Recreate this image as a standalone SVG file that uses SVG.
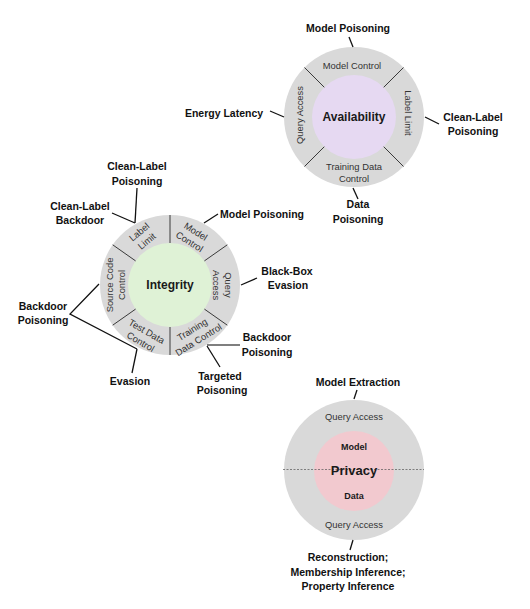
<svg xmlns="http://www.w3.org/2000/svg" width="530" height="609" viewBox="0 0 530 609">
<defs>
<style>
.outer{fill:#d9d9d9}
.div{stroke:#3a3a3a;stroke-width:1;fill:none}
.lbl{font-family:"Liberation Sans",Arial,sans-serif;font-weight:bold;font-size:10.5px;fill:#111;text-anchor:middle;dominant-baseline:central}
.seg{font-family:"Liberation Sans",Arial,sans-serif;font-size:9.4px;fill:#333;text-anchor:middle;dominant-baseline:central}
.title{font-family:"Liberation Sans",Arial,sans-serif;font-weight:bold;font-size:12px;fill:#1a1a1a;text-anchor:middle;dominant-baseline:central}
.conn{stroke:#111;stroke-width:1.3;fill:none}
</style>
</defs>
<rect width="530" height="609" fill="#ffffff"/>

<g id="availability">
<circle class="outer" cx="354" cy="117" r="70"/>
<circle cx="354" cy="117" r="42" fill="#e6d9f2"/>
<line class="div" x1="383.7" y1="87.3" x2="403.5" y2="67.5"/>
<line class="div" x1="383.7" y1="146.7" x2="403.5" y2="166.5"/>
<line class="div" x1="324.3" y1="146.7" x2="304.5" y2="166.5"/>
<line class="div" x1="324.3" y1="87.3" x2="304.5" y2="67.5"/>
<text class="seg" x="352" y="65">Model Control</text>
<text class="seg" transform="translate(299,115) rotate(-90)">Query Access</text>
<text class="seg" transform="translate(408,113) rotate(90)">Label Limit</text>
<text class="seg" x="354" y="166">Training Data</text>
<text class="seg" x="354" y="178">Control</text>
<text class="title" x="354" y="117">Availability</text>
</g>

<g id="integrity">
<circle class="outer" cx="170" cy="285" r="70"/>
<circle cx="170" cy="285" r="42" fill="#dff2d6"/>
<line class="div" x1="170" y1="243" x2="170" y2="215"/>
<line class="div" x1="204.4" y1="260.9" x2="227.3" y2="244.8"/>
<line class="div" x1="204.4" y1="309.1" x2="227.3" y2="325.2"/>
<line class="div" x1="170" y1="327" x2="170" y2="355"/>
<line class="div" x1="135.6" y1="309.1" x2="112.7" y2="325.2"/>
<line class="div" x1="135.6" y1="260.9" x2="112.7" y2="244.8"/>
<text class="seg" transform="translate(142.5,236) rotate(-40)"><tspan x="0" y="-6">Label</tspan><tspan x="0" y="6">Limit</tspan></text>
<text class="seg" transform="translate(193,236) rotate(32)"><tspan x="0" y="-6">Model</tspan><tspan x="0" y="6">Control</tspan></text>
<text class="seg" transform="translate(222.5,285) rotate(90)"><tspan x="0" y="-6">Query</tspan><tspan x="0" y="6">Access</tspan></text>
<text class="seg" transform="translate(195,334) rotate(-32)"><tspan x="0" y="-6">Training</tspan><tspan x="0" y="6">Data Control</tspan></text>
<text class="seg" transform="translate(144,336) rotate(30)"><tspan x="0" y="-6">Test Data</tspan><tspan x="0" y="6">Control</tspan></text>
<text class="seg" transform="translate(115,285) rotate(-90)"><tspan x="0" y="-6">Source Code</tspan><tspan x="0" y="6">Control</tspan></text>
<text class="title" x="170" y="285">Integrity</text>
</g>

<g id="privacy">
<circle class="outer" cx="354" cy="470" r="70"/>
<circle cx="354" cy="471" r="40" fill="#f2c9cf"/>
<line x1="283" y1="469.5" x2="424" y2="469.5" stroke="#555" stroke-width="0.7" stroke-dasharray="2,1.5"/>
<text class="seg" x="354" y="416">Query Access</text>
<text class="title" x="354" y="447" style="font-size:9px">Model</text>
<text class="title" x="354" y="470" style="font-size:13px">Privacy</text>
<text class="title" x="354" y="496" style="font-size:9px">Data</text>
<text class="seg" x="354" y="524">Query Access</text>
</g>

<g id="attack-labels">
<text class="lbl" x="348" y="28">Model Poisoning</text>
<text class="lbl" x="224" y="113">Energy Latency</text>
<text class="lbl" x="473" y="117">Clean-Label</text>
<text class="lbl" x="473" y="131">Poisoning</text>
<text class="lbl" x="358" y="204">Data</text>
<text class="lbl" x="358" y="219">Poisoning</text>

<text class="lbl" x="137" y="166">Clean-Label</text>
<text class="lbl" x="137" y="181">Poisoning</text>
<text class="lbl" x="80" y="206">Clean-Label</text>
<text class="lbl" x="80" y="220">Backdoor</text>
<text class="lbl" x="262" y="214">Model Poisoning</text>
<text class="lbl" x="287" y="271">Black-Box</text>
<text class="lbl" x="288" y="285">Evasion</text>
<text class="lbl" x="43" y="306">Backdoor</text>
<text class="lbl" x="43" y="320">Poisoning</text>
<text class="lbl" x="130" y="381">Evasion</text>
<text class="lbl" x="267" y="337">Backdoor</text>
<text class="lbl" x="267" y="352">Poisoning</text>
<text class="lbl" x="220" y="376">Targeted</text>
<text class="lbl" x="222" y="390">Poisoning</text>

<text class="lbl" x="358" y="382">Model Extraction</text>
<text class="lbl" x="348" y="557">Reconstruction;</text>
<text class="lbl" x="348" y="572">Membership Inference;</text>
<text class="lbl" x="348" y="586">Property Inference</text>
</g>

<g id="connectors">
<line class="conn" x1="349" y1="37" x2="353" y2="47"/>
<line class="conn" x1="425" y1="117" x2="439" y2="124"/>
<line class="conn" x1="353" y1="188" x2="358" y2="199"/>
<line class="conn" x1="270" y1="111" x2="284" y2="117"/>

<line class="conn" x1="137" y1="188" x2="135" y2="223"/>
<line class="conn" x1="112" y1="213" x2="135" y2="223"/>
<line class="conn" x1="218" y1="214" x2="204" y2="223"/>
<line class="conn" x1="257" y1="278" x2="241" y2="285"/>
<polyline class="conn" points="99,284 70,314 137,349"/>
<line class="conn" x1="132" y1="373" x2="137" y2="349"/>
<line x1="240" y1="345" x2="207" y2="345" stroke="#555" stroke-width="1.5"/>
<line class="conn" x1="220" y1="367" x2="207" y2="346"/>

<line class="conn" x1="357" y1="390" x2="354" y2="399"/>
<line class="conn" x1="353" y1="540" x2="350" y2="550"/>
</g>
</svg>
